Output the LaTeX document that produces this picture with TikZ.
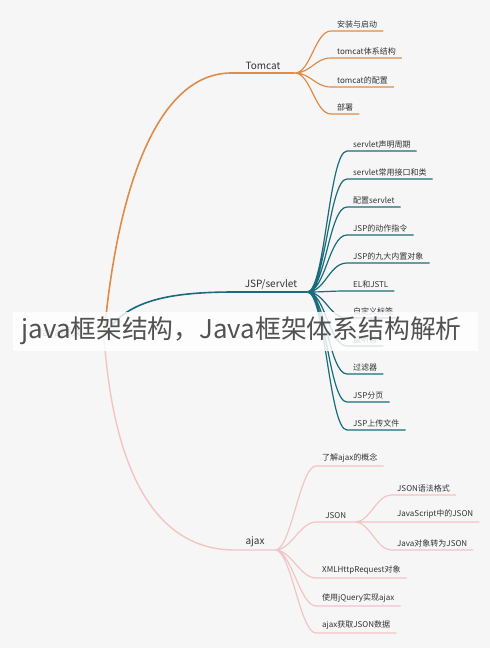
\documentclass[tikz,border=0pt]{standalone}
\usepackage{fontspec}
\setmainfont{Noto Sans CJK SC}
\usetikzlibrary{positioning,calc}
\definecolor{tomcatorange}{RGB}{222,140,72}
\definecolor{servletteal}{RGB}{26,108,122}
\definecolor{ajaxpink}{RGB}{243,196,196}
\definecolor{paper}{RGB}{246,246,247}
\definecolor{inkgray}{RGB}{51,51,51}

\tikzset{
  topic/.style={draw=none,font=\fontsize{10}{12}\selectfont,text=inkgray,inner sep=3pt,anchor=south},
  leaf/.style={draw=none,font=\fontsize{8}{9}\selectfont,text=inkgray,inner xsep=6pt,inner ysep=3pt,anchor=south west},
  twig/.style={to path={.. controls +(#1,0) and +(-#1,0) .. (\tikztotarget)}},
  twig/.default=16
}

\begin{document}
\begin{tikzpicture}[x=1pt,y=-1pt]

% Canvas
\fill[paper] (0,0) rectangle (490,648);
\useasboundingbox (0,0) rectangle (490,648);

% Root
\node[draw=none,font=\fontsize{11}{13}\selectfont,text=inkgray,anchor=west] (root) at (33,332) {Java框架};
\coordinate (hub) at (104,336);

% Main topics
\node[topic,minimum width=63pt] (tomcat) at (263,73) {Tomcat};
\node[topic,minimum width=72pt] (jsp) at (271,292) {JSP/servlet};
\node[topic,minimum width=40pt] (ajax) at (255,550) {ajax};

\draw[tomcatorange,line width=1.6pt] (hub) .. controls (118,180) and (160,73) .. (tomcat.south west) -- (tomcat.south east);
\draw[servletteal,line width=1.6pt] (hub) .. controls (125,300) and (170,292) .. (jsp.south west) -- (jsp.south east);
\draw[ajaxpink,line width=1.4pt] (hub) .. controls (114,480) and (160,550) .. (ajax.south west) -- (ajax.south east);

% Tomcat
\node[leaf] (install) at (331,31) {安装与启动};
\node[leaf] (arch) at (331,58) {tomcat体系结构};
\node[leaf] (config) at (331,87) {tomcat的配置};
\node[leaf] (deploy) at (331,114) {部署};

\draw[tomcatorange,line width=1.2pt]
  (tomcat.south east) to[twig] (install.south west) -- (install.south east)
  (tomcat.south east) to[twig] (arch.south west) -- (arch.south east)
  (tomcat.south east) to[twig] (config.south west) -- (config.south east)
  (tomcat.south east) to[twig] (deploy.south west) -- (deploy.south east);

% JSP/servlet
\node[leaf] (life) at (347,151) {servlet声明周期};
\node[leaf] (iface) at (347,179) {servlet常用接口和类};
\node[leaf] (setup) at (347,207) {配置servlet};
\node[leaf] (action) at (347,235) {JSP的动作指令};
\node[leaf] (builtin) at (347,263) {JSP的九大内置对象};
\node[leaf] (eljstl) at (347,291) {EL和JSTL};
\node[leaf] (taglib) at (347,318) {自定义标签};
\node[leaf] (listener) at (347,346) {监听器};
\node[leaf] (filter) at (347,374) {过滤器};
\node[leaf] (paging) at (347,402) {JSP分页};
\node[leaf] (upload) at (347,430) {JSP上传文件};

\draw[servletteal,line width=1.2pt]
  (jsp.south east) to[twig=18] (life.south west) -- (life.south east)
  (jsp.south east) to[twig=18] (iface.south west) -- (iface.south east)
  (jsp.south east) to[twig=18] (setup.south west) -- (setup.south east)
  (jsp.south east) to[twig=18] (action.south west) -- (action.south east)
  (jsp.south east) to[twig=18] (builtin.south west) -- (builtin.south east)
  (jsp.south east) to[twig=18] (eljstl.south west) -- (eljstl.south east)
  (jsp.south east) to[twig=18] (taglib.south west) -- (taglib.south east)
  (jsp.south east) to[twig=18] (listener.south west) -- (listener.south east)
  (jsp.south east) to[twig=18] (filter.south west) -- (filter.south east)
  (jsp.south east) to[twig=18] (paging.south west) -- (paging.south east)
  (jsp.south east) to[twig=18] (upload.south west) -- (upload.south east);

% ajax
\node[leaf] (concept) at (316,466) {了解ajax的概念};
\node[leaf,minimum width=39pt] (json) at (316,522) {JSON};
\node[leaf] (xhr) at (316,578) {XMLHttpRequest对象};
\node[leaf] (jquery) at (316,606) {使用jQuery实现ajax};
\node[leaf] (fetch) at (316,633) {ajax获取JSON数据};

\node[leaf] (syntax) at (391,495) {JSON语法格式};
\node[leaf] (jsjson) at (391,522) {JavaScript中的JSON};
\node[leaf] (tojson) at (391,550) {Java对象转为JSON};

\draw[ajaxpink,line width=1.2pt]
  (ajax.south east) to[twig] (concept.south west) -- (concept.south east)
  (ajax.south east) to[twig] (json.south west) -- (json.south east)
  (ajax.south east) to[twig] (xhr.south west) -- (xhr.south east)
  (ajax.south east) to[twig] (jquery.south west) -- (jquery.south east)
  (ajax.south east) to[twig] (fetch.south west) -- (fetch.south east)
  (json.south east) to[twig=14] (syntax.south west) -- (syntax.south east)
  (json.south east) to[twig=14] (jsjson.south west) -- (jsjson.south east)
  (json.south east) to[twig=14] (tojson.south west) -- (tojson.south east);

% Title banner
\fill[white,opacity=0.82] (13,312) rectangle (478,351);
\node[draw=none,font=\fontsize{25.8}{28}\selectfont,text=inkgray!85,anchor=west] (title) at (18,331) {java框架结构，Java框架体系结构解析};

\end{tikzpicture}
\end{document}
